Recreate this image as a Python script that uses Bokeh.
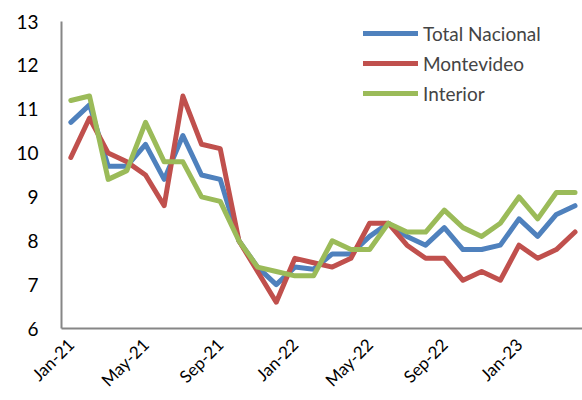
import math
from bokeh.plotting import figure
from bokeh.models import FixedTicker, Legend, LegendItem, ColumnDataSource
from bokeh.embed import file_html
from bokeh.resources import INLINE

months = ["Jan-21", "Feb-21", "Mar-21", "Apr-21", "May-21", "Jun-21", "Jul-21", "Aug-21",
          "Sep-21", "Oct-21", "Nov-21", "Dec-21", "Jan-22", "Feb-22", "Mar-22", "Apr-22",
          "May-22", "Jun-22", "Jul-22", "Aug-22", "Sep-22", "Oct-22", "Nov-22", "Dec-22",
          "Jan-23", "Feb-23", "Mar-23", "Apr-23"]

total_nacional = [10.7, 11.1, 9.7, 9.7, 10.2, 9.4, 10.4, 9.5, 9.4, 8.0, 7.4, 7.0, 7.4, 7.35,
                  7.7, 7.7, 8.1, 8.4, 8.1, 7.9, 8.3, 7.8, 7.8, 7.9, 8.5, 8.1, 8.6, 8.8]
montevideo = [9.9, 10.8, 10.0, 9.8, 9.5, 8.8, 11.3, 10.2, 10.1, 8.0, 7.3, 6.6, 7.6, 7.5,
              7.4, 7.6, 8.4, 8.4, 7.9, 7.6, 7.6, 7.1, 7.3, 7.1, 7.9, 7.6, 7.8, 8.2]
interior = [11.2, 11.3, 9.4, 9.6, 10.7, 9.8, 9.8, 9.0, 8.9, 8.0, 7.4, 7.3, 7.2, 7.2,
            8.0, 7.8, 7.8, 8.4, 8.2, 8.2, 8.7, 8.3, 8.1, 8.4, 9.0, 8.5, 9.1, 9.1]

series_names = ["Total Nacional", "Montevideo", "Interior"]
colors = ["#4F81BD", "#C0504D", "#9BBB59"]

x = list(range(len(months)))
src = ColumnDataSource(dict(x=x, tn=total_nacional, mv=montevideo, it=interior))

p = figure(width=582, height=400, output_backend="svg", toolbar_location=None,
           x_range=(-0.5, 27.4), y_range=(6, 13),
           min_border_left=61, min_border_right=0, min_border_top=21, min_border_bottom=72)
p.outline_line_color = None
p.xgrid.visible = False
p.ygrid.visible = False

renderers = []
for col, c in zip(["tn", "mv", "it"], colors):
    r = p.line("x", col, source=src, line_color=c, line_width=5, line_join="round", line_cap="round")
    renderers.append(r)

font = "Lato"
p.yaxis.ticker = FixedTicker(ticks=[6, 7, 8, 9, 10, 11, 12, 13])
p.yaxis.major_label_text_font = font
p.yaxis.major_label_text_font_size = "19px"
p.yaxis.major_label_text_color = "black"
p.yaxis.major_tick_line_color = None
p.yaxis.major_tick_out = 0
p.yaxis.major_tick_in = 0
p.yaxis.minor_tick_line_color = None
p.yaxis.axis_line_color = "#868686"
p.yaxis.axis_line_width = 2
p.yaxis.major_label_standoff = 23

tick_idx = list(range(0, len(months), 4))
p.xaxis.ticker = FixedTicker(ticks=tick_idx)
p.xaxis.major_label_overrides = {i: months[i] for i in tick_idx}
p.xaxis.major_label_orientation = math.pi / 4
p.xaxis.major_label_text_font = font
p.xaxis.major_label_text_font_size = "17px"
p.xaxis.major_label_text_color = "black"
p.xaxis.major_tick_line_color = None
p.xaxis.major_tick_out = 0
p.xaxis.major_tick_in = 0
p.xaxis.minor_tick_line_color = None
p.xaxis.axis_line_color = "#868686"
p.xaxis.axis_line_width = 2
p.xaxis.major_label_standoff = 13

legend = Legend(items=[LegendItem(label=n, renderers=[r]) for n, r in zip(series_names, renderers)],
                location=(302, 223))
legend.border_line_alpha = 0
legend.background_fill_alpha = 0
legend.padding = 0
legend.margin = 0
legend.spacing = 6
legend.glyph_width = 55
legend.glyph_height = 24
legend.label_height = 24
legend.label_standoff = 5
legend.label_text_font = font
legend.label_text_font_size = "19px"
p.add_layout(legend)

open("out.html", "w").write(file_html(p, INLINE))
